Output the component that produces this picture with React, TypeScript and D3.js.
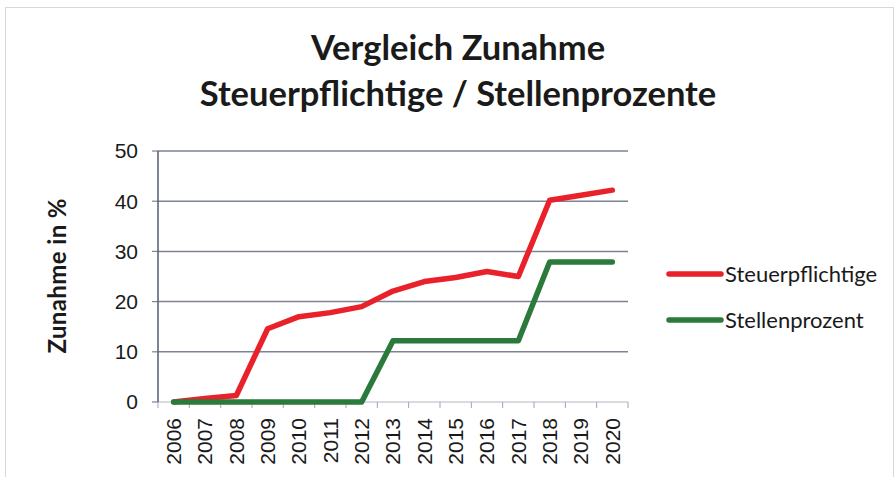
import React from 'react'
import * as d3 from 'd3'

const years = ['2006', '2007', '2008', '2009', '2010', '2011', '2012', '2013', '2014', '2015', '2016', '2017', '2018', '2019', '2020']
const steuerpflichtige = [0, 0.7, 1.3, 14.6, 17, 17.8, 19, 22.1, 24, 24.8, 26, 25, 40.2, 41.2, 42.2]
const stellenprozent = [0, 0, 0, 0, 0, 0, 0, 12.2, 12.2, 12.2, 12.2, 12.2, 27.9, 27.9, 27.9]
const yTicks = [0, 10, 20, 30, 40, 50]

const seriesNames = ['Steuerpflichtige', 'Stellenprozent']
const seriesColors = ['#e8212b', '#2b7a3b']

const W = 896
const H = 477
const left = 158
const right = 628
const top = 151
const bottom = 402

export default function App() {
  const x = d3.scaleBand().domain(years).range([left, right])
  const y = d3.scaleLinear().domain([0, 50]).range([bottom, top])
  const line = d3.line<number>()
    .x((_, i) => (x(years[i]) as number) + x.bandwidth() / 2)
    .y(d => y(d))
  const allSeries = [steuerpflichtige, stellenprozent]

  return (
    <svg width={W} height={H} style={{ position: 'absolute', left: 0, top: 0, background: '#fff' }}>
      <rect x={5.5} y={7.5} width={W - 8} height={H - 6} fill="none" stroke="#d8d8d8" />
      <text x={458} y={60} textAnchor="middle" fontFamily="Lato, sans-serif" fontWeight="bold" fontSize={34.5} fill="#1a1a1a">
        Vergleich Zunahme
      </text>
      <text x={458} y={106} textAnchor="middle" fontFamily="Lato, sans-serif" fontWeight="bold" fontSize={34.5} fill="#1a1a1a">
        Steuerpflichtige / Stellenprozente
      </text>

      {yTicks.map(t => (
        <g key={t}>
          {t > 0 && <line x1={left} x2={right} y1={y(t)} y2={y(t)} stroke="#7d8396" strokeWidth={1.5} />}
          <line x1={left - 6} x2={left} y1={y(t)} y2={y(t)} stroke="#7d8396" strokeWidth={1.2} />
          <text x={left - 20} y={y(t)} dy="0.35em" textAnchor="end" fontFamily="Liberation Sans, Arial, sans-serif" fontSize={21} fill="#1a1a1a">{t}</text>
        </g>
      ))}
      <line x1={left} x2={right} y1={bottom} y2={bottom} stroke="#b5b8c2" strokeWidth={1.2} />
      {years.map(yr => (
        <line key={'t' + yr} x1={(x(yr) as number)} x2={(x(yr) as number)} y1={bottom} y2={bottom + 6} stroke="#a0a4b0" strokeWidth={1} />
      ))}
      <line x1={right} x2={right} y1={bottom} y2={bottom + 6} stroke="#a0a4b0" strokeWidth={1} />
      <line x1={left} x2={left} y1={top} y2={bottom} stroke="#5f6577" strokeWidth={1.6} />

      {years.map(yr => {
        const cx = (x(yr) as number) + x.bandwidth() / 2
        return (
          <text key={yr} transform={`translate(${cx},${bottom + 16}) rotate(-90)`} dy="0.35em" textAnchor="end"
            fontFamily="Liberation Sans, Arial, sans-serif" fontSize={21} fill="#1a1a1a">{yr}</text>
        )
      })}

      <text transform={`translate(58,276) rotate(-90)`} textAnchor="middle" dy="0.35em"
        fontFamily="Lato, sans-serif" fontWeight="bold" fontSize={24} textLength={155} lengthAdjust="spacing" fill="#1a1a1a">Zunahme in %</text>

      {allSeries.map((s, k) => (
        <path key={k} d={line(s) || ''} fill="none" stroke={seriesColors[k]} strokeWidth={5.5} strokeLinejoin="round" strokeLinecap="round" />
      ))}

      {seriesNames.map((n, k) => (
        <g key={n} transform={`translate(0,${274 + k * 46})`}>
          <line x1={669} x2={721} y1={0} y2={0} stroke={seriesColors[k]} strokeWidth={5.5} strokeLinecap="round" />
          <text x={725} y={0} dy="0.35em" fontFamily="Lato, sans-serif" fontSize={22} fill="#1a1a1a">{n}</text>
        </g>
      ))}
    </svg>
  )
}
